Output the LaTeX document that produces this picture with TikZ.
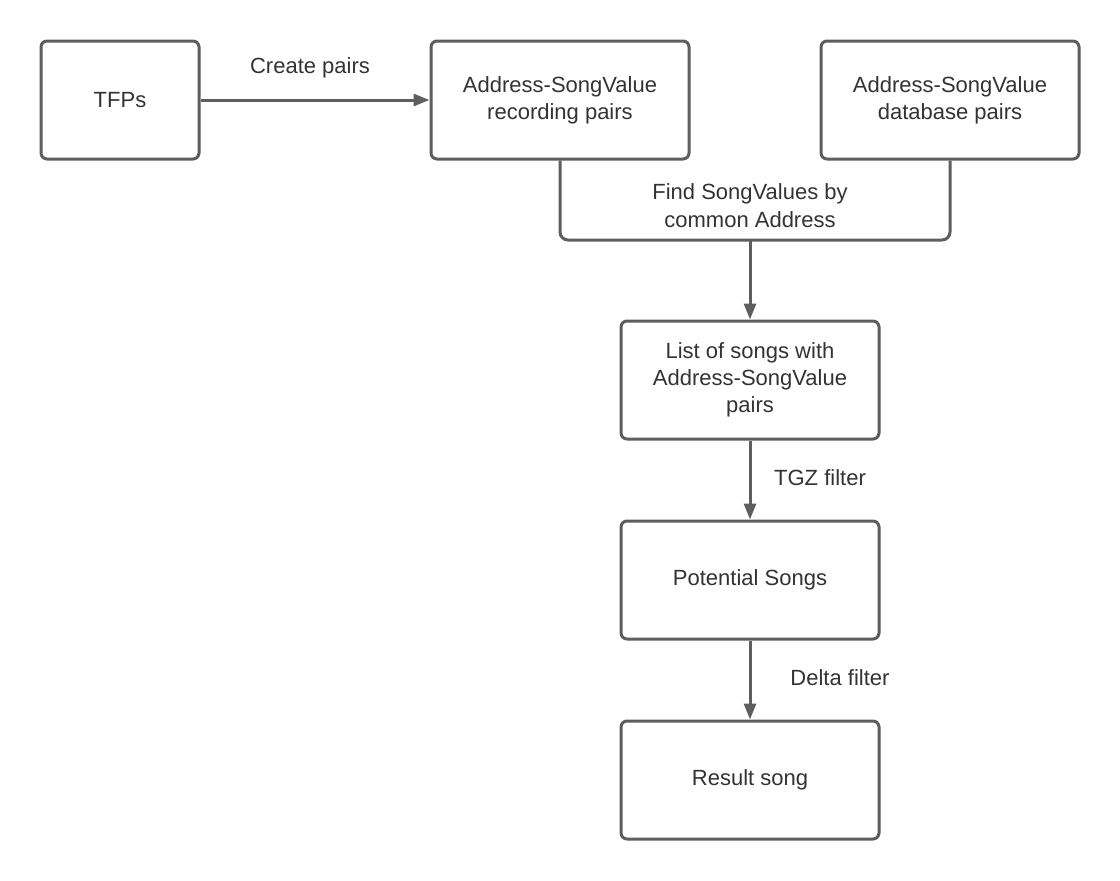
\documentclass[tikz,border=0pt]{standalone}
\usepackage{fontspec}
\setmainfont{Liberation Sans}
\usepackage{tikz}
\usetikzlibrary{arrows.meta,positioning,calc}
\definecolor{linegray}{RGB}{94, 94, 94}
\definecolor{textgray}{RGB}{51, 51, 51}
\tikzstyle{stepbox} = [draw=linegray, line width=1.5pt, rectangle, rounded corners=3pt, minimum width=129pt, minimum height=59pt, align=center, text=textgray, font=\fontsize{11}{13.5}\selectfont, fill=white]
\tikzstyle{flow} = [draw=linegray, line width=1.5pt, -{Triangle[length=8pt,width=6pt]}]
\tikzstyle{flowlabel} = [text=textgray, align=center, font=\fontsize{11}{14}\selectfont]

\begin{document}
\begin{tikzpicture}[x=0.5pt,y=-0.5pt]
    \useasboundingbox (0,0) rectangle (1120,880);
    % Top row
    \node[stepbox, minimum width=79pt] (TFPs) at (120,100) {TFPs};
    \node[stepbox] (Recording) at (560,100) {Address-SongValue\\recording pairs};
    \node[stepbox] (Database) at (950,100) {Address-SongValue\\database pairs};
    % Result chain
    \node[stepbox] (List) at (750,380) {List of songs with\\Address-SongValue\\pairs};
    \node[stepbox] (Potential) at (750,580) {Potential Songs};
    \node[stepbox] (Result) at (750,780) {Result song};
    \coordinate (Merge) at (750,240);
    % Connectors
    \draw[flow] (TFPs) -- (Recording);
    \draw[draw=linegray, line width=1.5pt, rounded corners=4pt] (Recording.south) |- (Merge) -| (Database.south);
    \draw[flow] (Merge) -- (List);
    \draw[flow] (List) -- (Potential);
    \draw[flow] (Potential) -- (Result);
    % Labels
    \node[flowlabel] (Create Label) at (310,68) {Create pairs};
    \node[flowlabel] (Find Label) at (750,206) {Find SongValues by\\common Address};
    \node[flowlabel] (TGZ Label) at (820,478) {TGZ filter};
    \node[flowlabel] (Delta Label) at (840,678) {Delta filter};
\end{tikzpicture}
\end{document}
